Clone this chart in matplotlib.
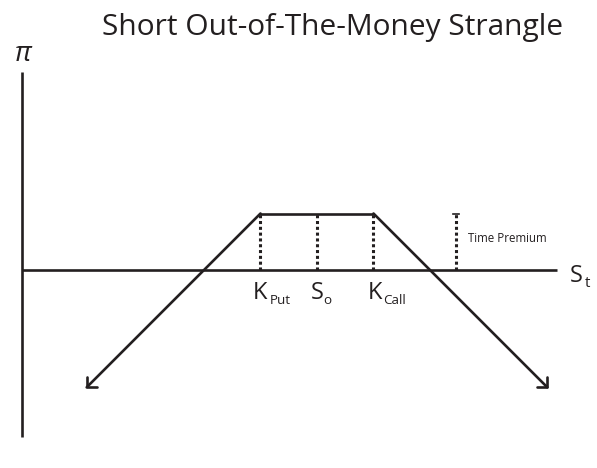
import matplotlib
matplotlib.use("Agg")
import matplotlib.pyplot as plt
import numpy as np

# Strategy values
S0 = 100.0
K_put = 90.0
K_call = 110.0
premium = 10.0
S_left_end = 59.0
S_right_end = 141.0
S_axis_min, S_axis_max = 47.8, 142.5
pi_axis_min, pi_axis_max = -29.6, 35.0
S_time_premium = 124.6

title = "Short Out-of-The-Money Strangle"

FONT = ["Open Sans", "DejaVu Sans"]
W, H = 597, 468

def payoff(s):
    return premium - np.maximum(K_put - s, 0) - np.maximum(s - K_call, 0)

fig = plt.figure(figsize=(W / 100, H / 100), dpi=100)
ax = fig.add_axes([0, 0, 1, 1])
px = 5.65
xmin = S0 - 317 / px
xmax = xmin + W / px
ymax = 270 / px
ymin = ymax - H / px
ax.set_xlim(xmin, xmax)
ax.set_ylim(ymin, ymax)
ax.axis("off")

col = "#231f20"
lw = 1.9

# axes
ax.plot([S_axis_min, S_axis_max], [0, 0], color=col, lw=lw, solid_capstyle="butt")
ax.plot([S_axis_min, S_axis_min], [pi_axis_min, pi_axis_max], color=col, lw=lw, solid_capstyle="butt")

# payoff
xs = [S_left_end, K_put, K_call, S_right_end]
ys = list(payoff(np.array(xs)))
ax.plot(xs[1:3], ys[1:3], color=col, lw=lw, solid_capstyle="butt")
for a, b in [(0, 1), (3, 2)]:
    ax.annotate("", xy=(xs[a], ys[a]), xytext=(xs[b], ys[b]),
                arrowprops=dict(arrowstyle="->,head_length=0.55,head_width=0.55",
                                color=col, lw=lw, shrinkA=0, shrinkB=0))

# dotted verticals
for s in [K_put, S0, K_call, S_time_premium]:
    ax.plot([s, s], [0, premium], color=col, lw=2.2, linestyle=(0, (1.0, 0.9)),
            dash_capstyle="butt")
ax.plot([S_time_premium - 0.5, S_time_premium + 0.5], [premium, premium], color=col, lw=1.2)

def ptext(x, y, s, **kw):
    """place text at pixel position (x from left, y from top)"""
    kw.setdefault("family", FONT)
    kw.setdefault("color", col)
    return fig.text(x / W, 1 - y / H, s, **kw)

ptext(468, 239, "Time Premium", fontsize=8.3, ha="left", va="center")

# labels
for (kx, main, sx, sub) in [(254, "K", 270, "Put"), (312, "S", 323, "o"), (369, "K", 383, "Call")]:
    ptext(kx - 1, 299, main, fontsize=17, ha="left", va="baseline")
    ptext(sx, 304, sub, fontsize=9.6, ha="left", va="baseline")

ptext(570, 282, "S", fontsize=17, ha="left", va="baseline")
ptext(585, 287, "t", fontsize=11, ha="left", va="baseline")

ptext(23, 61, "π", fontsize=20, style="italic", ha="center", va="baseline")
ptext(332.5, 35, title, fontsize=21.5, ha="center", va="baseline")

fig.savefig("out.png", dpi=100)
